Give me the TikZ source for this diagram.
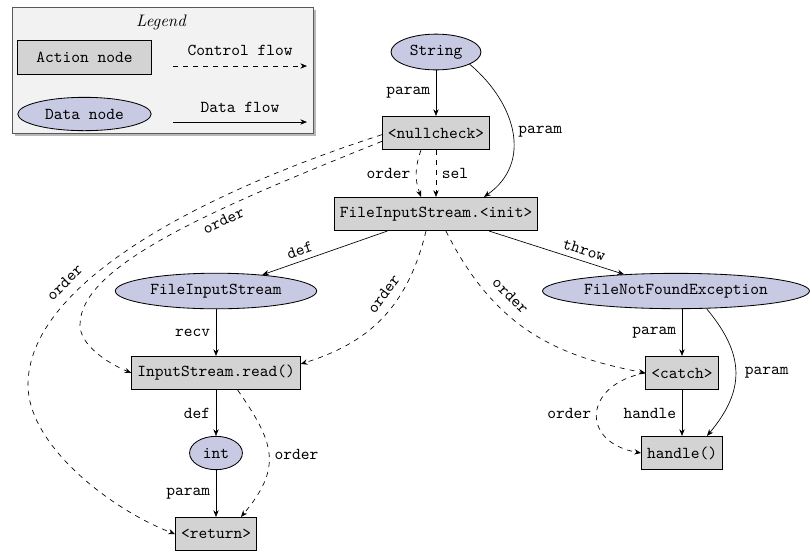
\documentclass[tikz,border=0pt]{standalone}
\usepackage{tikz}
\usetikzlibrary{shapes.geometric,arrows.meta,calc}
\definecolor{datafill}{RGB}{200,201,226}
\definecolor{actionfill}{RGB}{211,211,211}
\definecolor{legendbg}{RGB}{242,242,242}
\begin{document}
\begin{tikzpicture}[x=0.6pt,y=0.6pt,font=\ttfamily,
  >={Stealth[length=4pt,width=3.2pt]},
  action/.style={draw, fill=actionfill, line width=0.5pt, minimum height=20pt},
  data/.style={ellipse, draw, fill=datafill, line width=0.5pt, minimum height=20pt},
  dflow/.style={->},
  cflow/.style={->, dashed}]
\useasboundingbox (0,0) rectangle (810,-552);

% legend frame with a soft shadow
\fill[gray!55] (14.5,-9.5) rectangle (315.5,-135.5);
\draw[fill=legendbg, draw=gray!70!black, line width=0.5pt] (12,-7) rectangle (313,-133);
\node[font=\rmfamily\itshape] (legtitle) at (161,-22) {Legend};
\node[action, minimum width=80pt] (legact) at (84.5,-57.5) {Action node};
\node[data, minimum width=80pt] (legdat) at (84.5,-114) {Data node};
\node (legcf) at (240,-50) {Control flow};
\node (legdf) at (240,-107) {Data flow};
\coordinate (cfa) at (173,-66); \coordinate (cfb) at (307,-66);
\coordinate (dfa) at (173,-122); \coordinate (dfb) at (307,-122);
\draw[cflow] (cfa) -- (cfb);
\draw[dflow] (dfa) -- (dfb);

% graph nodes
\node[data] (s) at (436,-52) {String};
\node[action] (nc) at (436,-133) {<nullcheck>};
\node[action] (init) at (436,-214) {FileInputStream.<init>};
\node[data] (fis) at (216,-291) {FileInputStream};
\node[data, inner xsep=1.5pt] (fnf) at (676,-291) {FileNotFoundException};
\node[action] (read) at (216,-373) {InputStream.read()};
\node[data] (int) at (216,-453) {int};
\node[action] (ret) at (216,-534) {<return>};
\node[action] (catch) at (682,-373) {<catch>};
\node[action] (handle) at (682,-453) {handle()};

% data flow
\draw[dflow] (s) -- node[left] {param} (nc);
\draw[dflow] (s.-20) to[out=-40, in=35, looseness=1.15] node[right] {param} ([xshift=28.8pt]init.north);
\draw[dflow] (init) -- node[pos=0.67, above, sloped] {def} (fis);
\draw[dflow] (init) -- node[pos=0.68, above, sloped] {throw} (fnf);
\draw[dflow] (fis) -- node[left] {recv} (read);
\draw[dflow] (read) -- node[left] {def} (int);
\draw[dflow] (int) -- node[left] {param} (ret);
\draw[dflow] (catch.north |- fnf.south) -- node[left] {param} (catch);
\draw[dflow] (fnf.-30) to[out=-50, in=50, looseness=1.2] node[right, xshift=2pt] {param} ([xshift=15pt]handle.north);
\draw[dflow] (catch) -- node[left] {handle} (handle);

% control flow
\draw[cflow] ([xshift=-9pt]nc.south) to[out=250, in=110] node[left] {order} ([xshift=-9pt]init.north);
\draw[cflow] (nc) -- node[right] {sel} (init);
\draw[cflow] ([yshift=-1pt]nc.west) .. controls +(-186,-60) and +(0,100) .. (28,-385)
  node[pos=0.68, above=2pt, sloped] {order}
  .. controls +(0,-60) and +(-65,25) .. (ret.west);
\draw[cflow] ([yshift=-5pt]nc.west) .. controls +(-167,-67) and +(0,60) .. (80,-325)
  node[pos=0.36, below, sloped] {order}
  .. controls +(0,-20) and +(-24,10) .. (read.west);
\draw[cflow] ([xshift=-6pt]init.south) .. controls +(-19,-78) and +(67,21) .. ([yshift=5.4pt]read.east)
  node[pos=0.38, above=2pt, sloped] {order};
\draw[cflow] ([xshift=6pt]init.south) .. controls +(49,-98) and +(-88,17) .. (catch.west)
  node[pos=0.33, above=3pt, sloped] {order};
\draw[cflow] ([xshift=13pt]read.south) to[out=-55, in=50, looseness=1.3] node[right] {order} ([xshift=15pt]ret.north);
\draw[cflow] (catch.west) to[out=190, in=170, looseness=2] node[left] {order} (handle.west);
\end{tikzpicture}
\end{document}
